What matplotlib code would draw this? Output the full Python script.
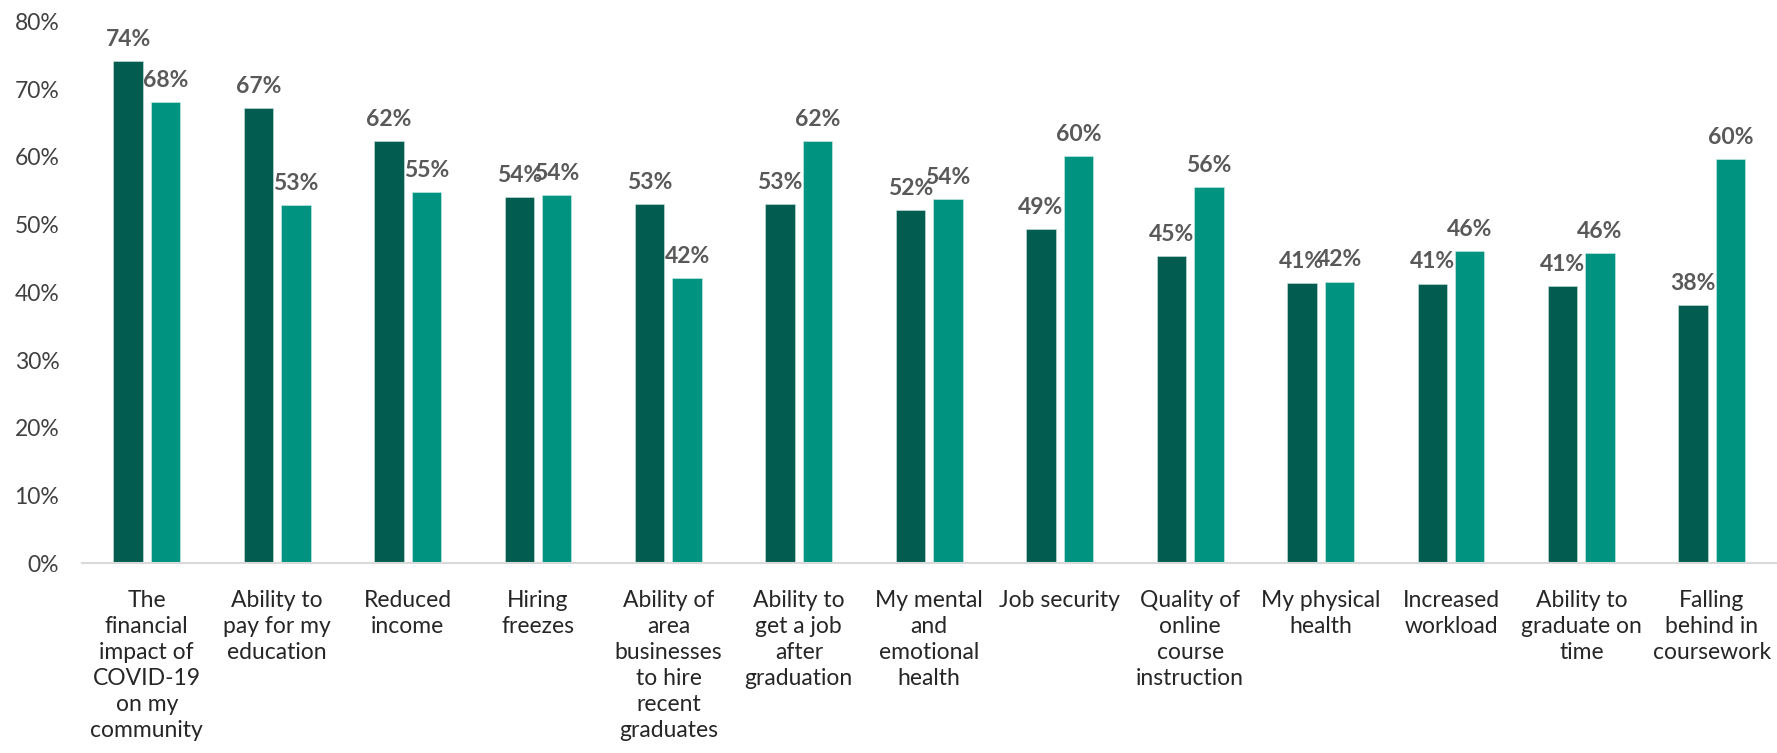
import matplotlib
matplotlib.use("Agg")
import matplotlib.pyplot as plt
import numpy as np

categories = [
    "The\nfinancial\nimpact of\nCOVID-19\non my\ncommunity",
    "Ability to\npay for my\neducation",
    "Reduced\nincome",
    "Hiring\nfreezes",
    "Ability of\narea\nbusinesses\nto hire\nrecent\ngraduates",
    "Ability to\nget a job\nafter\ngraduation",
    "My mental\nand\nemotional\nhealth",
    "Job security",
    "Quality of\nonline\ncourse\ninstruction",
    "My physical\nhealth",
    "Increased\nworkload",
    "Ability to\ngraduate on\ntime",
    "Falling\nbehind in\ncoursework",
]

series_a = [0.741, 0.672, 0.623, 0.541, 0.530, 0.530, 0.522, 0.494, 0.454, 0.414, 0.413, 0.409, 0.381]
series_b = [0.681, 0.529, 0.548, 0.544, 0.421, 0.624, 0.538, 0.601, 0.556, 0.416, 0.461, 0.458, 0.597]

y_ticks = [0.0, 0.1, 0.2, 0.3, 0.4, 0.5, 0.6, 0.7, 0.8]
y_tick_labels = ["0%", "10%", "20%", "30%", "40%", "50%", "60%", "70%", "80%"]

color_a = "#025C4F"
color_b = "#009380"

plt.rcParams["font.family"] = ["Lato", "DejaVu Sans"]

fig = plt.figure(figsize=(17.77, 7.53), dpi=100)
ax = fig.add_axes([0.0459, 0.252, 0.9541, 0.7195])

x = np.arange(len(categories))
width = 0.226
offset = 0.1435

bars_a = ax.bar(x - offset, series_a, width, color=color_a, edgecolor="#CFE5E0", linewidth=0.4)
bars_b = ax.bar(x + offset, series_b, width, color=color_b, edgecolor="#CFEDE8", linewidth=0.4)

for bars, vals in ((bars_a, series_a), (bars_b, series_b)):
    for b, v in zip(bars, vals):
        ax.annotate(f"{round(v * 100):d}%",
                    xy=(b.get_x() + b.get_width() / 2, v),
                    xytext=(0, 8), textcoords="offset points",
                    ha="center", va="bottom",
                    fontsize=16.5, fontweight="bold", color="#595959")

ax.set_xlim(-0.5, len(categories) - 0.5)
ax.set_ylim(0, 0.8)
ax.set_yticks(y_ticks)
ax.set_yticklabels(y_tick_labels)
ax.set_xticks(x)
ax.set_xticklabels(categories, linespacing=1.3)

ax.tick_params(axis="y", length=0, pad=16, labelsize=16.5, labelcolor="#404040")
ax.tick_params(axis="x", length=0, pad=19, labelsize=16.5, labelcolor="#262626")

for side in ("top", "right", "left"):
    ax.spines[side].set_visible(False)
ax.spines["bottom"].set_color("#D9D9D9")
ax.spines["bottom"].set_linewidth(1.5)

fig.savefig("out.png", dpi=100)
